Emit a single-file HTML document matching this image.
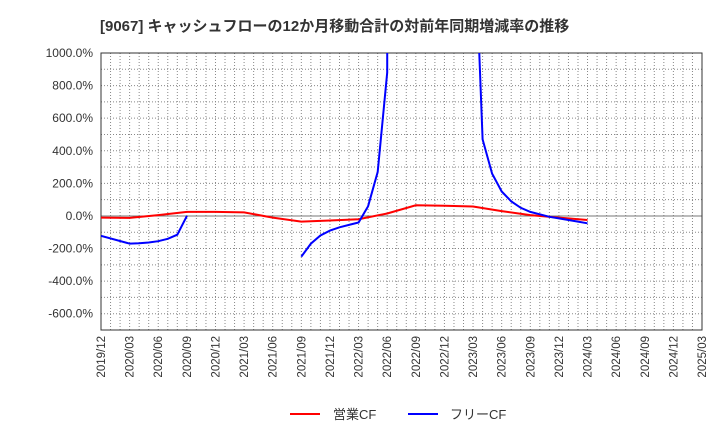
<!DOCTYPE html>
<html><head><meta charset="utf-8"><style>
body{margin:0;background:#fff;font-family:"Liberation Sans","Noto Sans CJK JP",sans-serif;}
</style></head><body>
<svg id="c" width="720" height="440" xmlns="http://www.w3.org/2000/svg">
<text x="100" y="31" font-size="15" font-weight="bold" fill="#333" font-family="Liberation Sans, Noto Sans CJK JP, sans-serif">[9067]  キャッシュフローの12か月移動合計の対前年同期増減率の推移</text>
<defs><clipPath id="clip"><rect x="101" y="53" width="601" height="277"/></clipPath></defs>
<g id="grid"></g><g id="axes"></g><g id="series" clip-path="url(#clip)"></g>
<g>
<line x1="290" y1="414" x2="320" y2="414" stroke="#f00" stroke-width="2"/>
<text x="333" y="419" font-size="13" fill="#333">営業CF</text>
<line x1="408" y1="414" x2="438" y2="414" stroke="#00f" stroke-width="2"/>
<text x="450" y="419" font-size="13" fill="#333">フリーCF</text>
</g>
</svg>
<script>
const xLabels=["2019/12","2020/03","2020/06","2020/09","2020/12","2021/03","2021/06","2021/09","2021/12","2022/03","2022/06","2022/09","2022/12","2023/03","2023/06","2023/09","2023/12","2024/03","2024/06","2024/09","2024/12","2025/03"];
const yTicks=[1000,800,600,400,200,0,-200,-400,-600];
const opMonths=[0,3,6,9,12,15,18,21,24,27,30,33,36,39,42,45,48,51];
const opValues=[-10,-12,5,25,25,22,-10,-35,-28,-20,15,65,62,58,30,5,-10,-25];
const fcfMonths=[0,3,4,5,6,7,8,9,null,21,22,23,24,25,26,27,28,29,30,31,32,33,34,35,36,37,38,39,40,41,42,43,44,45,46,47,48,49,50,51];
const fcfValues=[-122,-170,-168,-163,-155,-140,-115,0,null,-250,-170,-120,-90,-70,-55,-40,60,270,880,50000,3000,3000,3000,3000,3000,3000,3000,2000,470,260,150,90,50,25,10,-5,-15,-25,-35,-45];
const X0=101,X1=702,Y0=53,Y1=330,M=63,YMAX=1000,YMIN=-700;
const xs=m=>X0+m*(X1-X0)/M;
const ys=v=>Y0+(YMAX-v)*(Y1-Y0)/(YMAX-YMIN);
const NS="http://www.w3.org/2000/svg";
const g=document.getElementById('grid'),a=document.getElementById('axes'),s=document.getElementById('series');
function mk(t,at,p){const e=document.createElementNS(NS,t);for(const k in at)e.setAttribute(k,at[k]);p.appendChild(e);return e;}
for(let m=1;m<M;m++){const l=mk('line',{x1:xs(m),x2:xs(m),y1:Y0,y2:Y1,stroke:'#888','stroke-dasharray':'1,2','stroke-width':1},g);

}
for(let v=-600;v<1000;v+=100){if(v===0)continue;const l=mk('line',{x1:X0,x2:X1,y1:ys(v),y2:ys(v),stroke:'#888','stroke-dasharray':'1,2','stroke-width':1},g);

}
const z=mk('line',{x1:X0,x2:X1,y1:ys(0),y2:ys(0),stroke:'#777','stroke-width':1},g);


const box=mk('rect',{x:X0,y:Y0,width:X1-X0,height:Y1-Y0,fill:'none',stroke:'#333','stroke-width':1},a);


yTicks.forEach(v=>{const t=mk('text',{x:X0-8,y:ys(v)+4,'text-anchor':'end','font-size':12,fill:'#333'},a);t.textContent=v.toFixed(1)+'%';

});
xLabels.forEach((lb,i)=>{const x=xs(i*3);const t=mk('text',{x:0,y:0,'text-anchor':'end','font-size':11.5,fill:'#333',transform:`translate(${x+4},${Y1+6}) rotate(-90)`},a);t.textContent=lb;

});
function path(ms,vs){let d='',pen=false;ms.forEach((m,i)=>{if(m===null||vs[i]===null){pen=false;return;}d+=(pen?'L':'M')+xs(m).toFixed(1)+','+ys(vs[i]).toFixed(1);pen=true;});return d;}
const p1=mk('path',{d:path(opMonths,opValues),fill:'none',stroke:'#f00','stroke-width':2},s);


const p2=mk('path',{d:path(fcfMonths,fcfValues),fill:'none',stroke:'#00f','stroke-width':2},s);


</script>
</body></html>
